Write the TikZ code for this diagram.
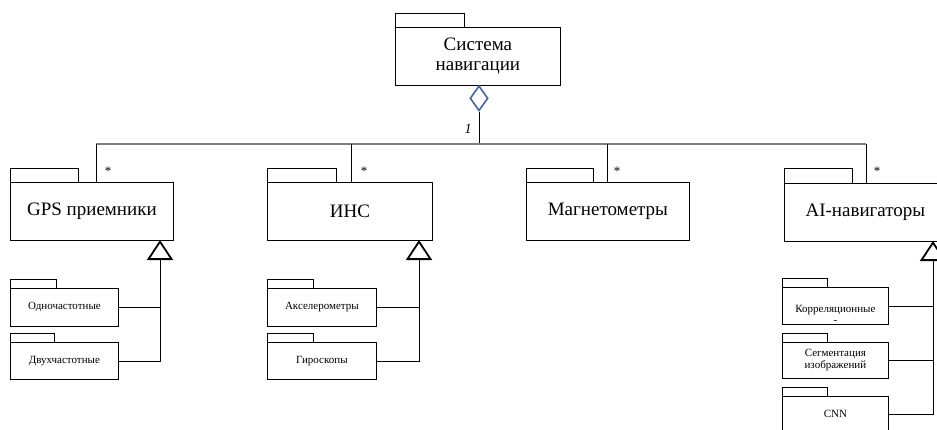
\documentclass[tikz,border=0pt]{standalone}
\usepackage{fontspec}
\setmainfont{Liberation Serif}
\newfontfamily\diaserif{Liberation Serif}
\usetikzlibrary{arrows.meta,shapes.geometric}
\definecolor{diablue}{RGB}{66,100,160}
\definecolor{busgray}{RGB}{128,128,128}
\begin{document}
\begin{tikzpicture}[x=1pt,y=-1pt,
  every node/.style={font=\diaserif},
  box/.style={draw, line width=0.8pt, inner sep=0pt, anchor=north west, align=center},
  big/.style={box, font=\diaserif\fontsize{19}{20}\selectfont, minimum height=58pt},
  sm/.style={box, font=\diaserif\fontsize{11}{13}\selectfont},
  smtext/.style={font=\diaserif\fontsize{11}{13}\selectfont, align=center, inner sep=0pt},
  tab/.style={draw, line width=0.8pt},
  bus/.style={draw=busgray, line width=2.2pt},
  link/.style={draw, line width=0.8pt},
  gen/.style={draw, line width=0.8pt, -{Triangle[open, length=20pt, width=26pt, line width=1.8pt]}},
  mult/.style={font=\diaserif\fontsize{13}{13}\selectfont, inner sep=0pt}
]
\useasboundingbox (0,0) rectangle (937,429);
\clip (0,0) rectangle (937,429);

% top package
\node[big, minimum width=165pt] (sys) at (395,27) {Система\\навигации};
\draw[tab] (sys.north west) rectangle ++(69,-14);
\node[diamond, draw=diablue, line width=1.6pt, minimum width=18pt, minimum height=25pt, inner sep=0pt, anchor=north] (dia) at (479,85) {};
\coordinate (j0) at (479,144);
\draw[link] (dia.south) -- (j0);
\node[font=\diaserif\itshape\fontsize{14}{14}\selectfont, inner sep=0pt] (one) at (468,129) {1};

% bus
\coordinate (b1) at (96,144);
\coordinate (b2) at (351,144);
\coordinate (b3) at (607,144);
\coordinate (b4) at (866,144);
\draw[bus] (b1) -- (b4);

% main packages
\node[big, minimum width=163pt] (gps) at (10,182) {GPS приемники};
\draw[tab] (gps.north west) rectangle ++(68,-14);
\node[big, minimum width=165pt] (ins) at (267,182) {ИНС};
\draw[tab] (ins.north west) rectangle ++(69,-14);
\node[big, minimum width=163pt] (mag) at (526,182) {Магнетометры};
\draw[tab] (mag.north west) rectangle ++(67,-14);
\node[big, minimum width=162pt] (ai) at (784,183) {AI-навигаторы};
\draw[tab] (ai.north west) rectangle ++(68,-15);

\draw[link] (b1) -- (b1 |- gps.north);
\draw[link] (b2) -- (b2 |- ins.north);
\draw[link] (b3) -- (b3 |- mag.north);
\draw[link] (b4) -- (b4 |- ai.north);

\node[mult] (m1) at (108,171) {*};
\node[mult] (m2) at (364,171) {*};
\node[mult] (m3) at (617,171) {*};
\node[mult] (m4) at (877,171) {*};

% GPS subpackages
\node[sm, minimum width=108pt, minimum height=38pt] (od) at (10,288) {Одночастотные};
\draw[tab] (od.north west) rectangle ++(46,-9);
\node[sm, minimum width=108pt, minimum height=37pt] (dv) at (10,342) {Двухчастотные};
\draw[tab] (dv.north west) rectangle ++(44,-9);
\coordinate (g1) at (160,240);
\draw[gen] (dv.east) -| (g1);
\draw[link] (od.east) -- (od.east -| g1);

% INS subpackages
\node[sm, minimum width=109pt, minimum height=38pt] (acc) at (267,288) {Акселерометры};
\draw[tab] (acc.north west) rectangle ++(46,-9);
\node[sm, minimum width=109pt, minimum height=37pt] (gyr) at (267,342) {Гироскопы};
\draw[tab] (gyr.north west) rectangle ++(46,-9);
\coordinate (g2) at (419,240);
\draw[gen] (gyr.east) -| (g2);
\draw[link] (acc.east) -- (acc.east -| g2);

% AI subpackages
\node[sm, minimum width=106pt, minimum height=37pt] (corr) at (782,287) {};
\node[smtext] (corrtext) at ([yshift=-8pt]corr.center) {Корреляционные\\[-2pt]-};
\draw[tab] (corr.north west) rectangle ++(45,-9);
\node[sm, minimum width=106pt, minimum height=36pt] (seg) at (782,342) {Сегментация\\[-1pt]изображений};
\draw[tab] (seg.north west) rectangle ++(45,-9);
\node[sm, minimum width=106pt, minimum height=36pt] (cnn) at (782,396) {CNN};
\draw[tab] (cnn.north west) rectangle ++(45,-9);
\coordinate (g3) at (933,241);
\draw[gen] (cnn.east) -| (g3);
\draw[link] (corr.east) -- (corr.east -| g3);
\draw[link] (seg.east) -- (seg.east -| g3);
\end{tikzpicture}
\end{document}
